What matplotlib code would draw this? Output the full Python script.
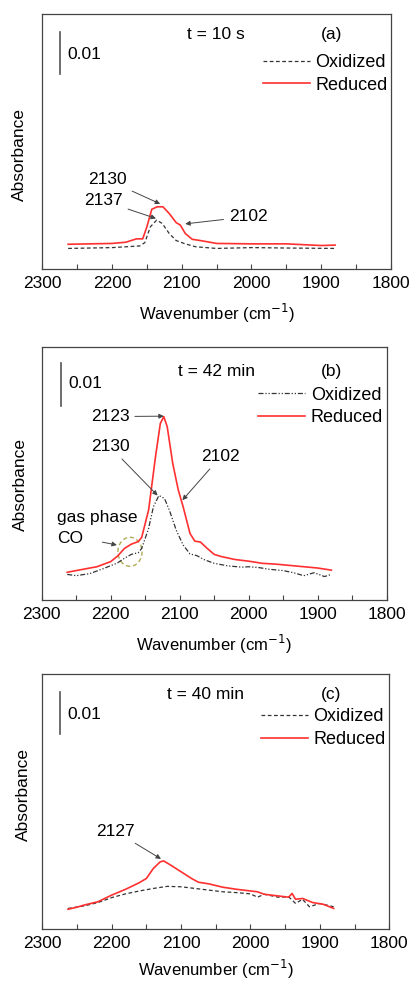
import matplotlib
matplotlib.use("Agg")
import matplotlib.pyplot as plt
from matplotlib.patches import Ellipse
import numpy as np

plt.rcParams['font.family'] = ['Liberation Sans', 'DejaVu Sans']

# ---------------- data ----------------
# panel (a): t = 10 s
a_red_w = [2263, 2200, 2180, 2165, 2156, 2150, 2143, 2135, 2127, 2118, 2108, 2102, 2095, 2085,
           2070, 2050, 2000, 1950, 1900, 1880]
a_red_v = [0.0060, 0.0062, 0.0065, 0.0073, 0.0073, 0.0102, 0.0144, 0.0150, 0.0150, 0.0134, 0.0112,
           0.0106, 0.0086, 0.0072, 0.0068, 0.0062, 0.0061, 0.0061, 0.0057, 0.0058]
a_ox_w = [2263, 2200, 2160, 2153, 2145, 2136, 2128, 2118, 2108, 2095, 2080, 2050, 2000, 1950, 1880]
a_ox_v = [0.0050, 0.0052, 0.0056, 0.0064, 0.0102, 0.0118, 0.0110, 0.0086, 0.0069, 0.0061, 0.0054,
          0.0050, 0.0052, 0.0051, 0.0050]

# panel (b): t = 42 min
b_red_w = [2263, 2240, 2220, 2200, 2190, 2180, 2170, 2160, 2155, 2145, 2135, 2128, 2123, 2118,
           2110, 2102, 2095, 2085, 2078, 2070, 2060, 2050, 2040, 2020, 2000, 1980, 1960, 1940,
           1920, 1900, 1880]
b_red_v = [0.0065, 0.0072, 0.0078, 0.0090, 0.0103, 0.0121, 0.0131, 0.0137, 0.0147, 0.0211, 0.0336,
           0.0414, 0.0430, 0.0406, 0.0320, 0.0258, 0.0219, 0.0156, 0.0138, 0.0136, 0.0121, 0.0107,
           0.0102, 0.0095, 0.0091, 0.0086, 0.0084, 0.0081, 0.0078, 0.0075, 0.0070]
b_ox_w = [2263, 2250, 2230, 2210, 2190, 2180, 2170, 2160, 2155, 2145, 2138, 2130, 2122, 2115,
          2105, 2095, 2085, 2075, 2065, 2050, 2030, 2010, 2000, 1985, 1970, 1950, 1935, 1920,
          1905, 1890, 1880]
b_ox_v = [0.0060, 0.0057, 0.0062, 0.0074, 0.0087, 0.0098, 0.0107, 0.0111, 0.0121, 0.0168, 0.0219,
          0.0245, 0.0238, 0.0211, 0.0164, 0.0129, 0.0108, 0.0104, 0.0095, 0.0086, 0.0080, 0.0077,
          0.0078, 0.0076, 0.0072, 0.0069, 0.0064, 0.0057, 0.0064, 0.0055, 0.0060]

# panel (c): t = 40 min
c_red_w = [2263, 2250, 2240, 2220, 2200, 2180, 2160, 2150, 2140, 2130, 2125, 2115, 2100, 2085,
           2075, 2060, 2040, 2020, 2000, 1990, 1980, 1960, 1945, 1940, 1935, 1925, 1910, 1895, 1880]
c_red_v = [0.0048, 0.0053, 0.0058, 0.0066, 0.0082, 0.0096, 0.0112, 0.0122, 0.0146, 0.0162, 0.0164,
           0.0154, 0.0138, 0.0122, 0.0113, 0.0109, 0.0101, 0.0096, 0.0092, 0.0090, 0.0084, 0.0080,
           0.0077, 0.0086, 0.0072, 0.0074, 0.0064, 0.0060, 0.0050]
c_ox_w = [2263, 2240, 2220, 2200, 2180, 2160, 2140, 2120, 2100, 2080, 2060, 2040, 2020, 2000,
          1990, 1980, 1960, 1945, 1935, 1925, 1915, 1900, 1880]
c_ox_v = [0.0050, 0.0056, 0.0064, 0.0076, 0.0085, 0.0092, 0.0098, 0.0103, 0.0102, 0.0098, 0.0094,
          0.0090, 0.0088, 0.0085, 0.0077, 0.0084, 0.0077, 0.0078, 0.0062, 0.0072, 0.0054, 0.0062,
          0.0054]

series_labels = ["Oxidized", "Reduced"]
x_ticks = [2300, 2200, 2100, 2000, 1900, 1800]
scale_bar = 0.01

# ---------------- styling ----------------
RED = '#ff3030'
OX = '#333333'
SPINE = '#444444'
FS = 12.5
FS_LEG = 13

fig = plt.figure(figsize=(4.11, 9.82), dpi=100)

panels = [
    dict(rect=[0.103, 0.7258, 0.848, 0.260], ylim=0.0613, red=(a_red_w, a_red_v), ox=(a_ox_w, a_ox_v),
         oxstyle=(0, (3, 2)), title="t = 10 s", tx=0.499, letter="(a)", lx=0.829, ty=0.92,
         bar=(2274.6, 0.0469), lab_y=0.842, lab_x=0.073, leg=(0.99, 0.842), ylab=(-0.043, 0.45),
         xpad=8,
         notes=[("2130", (0.187, 0.35), (2131, 0.0157)),
                ("2137", (0.175, 0.268), (2137, 0.0122)),
                ("2102", (0.591, 0.206), (2095, 0.0109))]),
    dict(rect=[0.1015, 0.389, 0.839, 0.258], ylim=0.0594, red=(b_red_w, b_red_v), ox=(b_ox_w, b_ox_v),
         oxstyle=(0, (4, 1.5, 1, 1.5, 1, 1.5)), title="t = 42 min", tx=0.507, letter="(b)", lx=0.839,
         ty=0.901, bar=(2272, 0.0455), lab_y=0.855, lab_x=0.077, leg=(0.99, 0.842), ylab=(-0.041, 0.454),
         xpad=8,
         notes=[("2123", (0.198, 0.724), (2123, 0.0431)),
                ("2130", (0.198, 0.605), (2132, 0.0245)),
                ("2102", (0.519, 0.566), (2096, 0.0234))]),
    dict(rect=[0.103, 0.0537, 0.844, 0.260], ylim=0.0613, red=(c_red_w, c_red_v), ox=(c_ox_w, c_ox_v),
         oxstyle=(0, (3, 2)), title="t = 40 min", tx=0.469, letter="(c)", lx=0.832, ty=0.92,
         bar=(2274.6, 0.0469), lab_y=0.842, lab_x=0.073, leg=(0.99, 0.865), ylab=(-0.034, 0.526),
         xpad=5,
         notes=[("2127", (0.212, 0.3825), (2129, 0.0169))]),
]

for i, p in enumerate(panels):
    ax = fig.add_axes(p['rect'])
    ox_line, = ax.plot(p['ox'][0], p['ox'][1], color=OX, lw=0.9, linestyle=p['oxstyle'],
                       label=series_labels[0])
    red_line, = ax.plot(p['red'][0], p['red'][1], color=RED, lw=1.2, label=series_labels[1])
    ax.set_xlim(2300, 1800)
    ax.set_ylim(0, p['ylim'])
    ax.set_xticks(x_ticks)
    ax.set_xticks([2250, 2150, 2050, 1950, 1850], minor=True)
    ax.set_yticks([])
    ax.tick_params(axis='x', which='both', direction='in', length=3.5, width=0.8,
                   color=SPINE, labelsize=FS, pad=5)
    for s in ax.spines.values():
        s.set_color(SPINE)
        s.set_linewidth(0.9)
    ax.set_xlabel("Wavenumber (cm$^{-1}$)", fontsize=12, labelpad=p['xpad'])
    ax.set_ylabel("Absorbance", fontsize=FS)
    ax.yaxis.set_label_coords(*p['ylab'])

    # scale bar
    bx, by = p['bar']
    ax.plot([bx, bx], [by, by + scale_bar], color='#555555', lw=1.2)
    ax.text(p['lab_x'], p['lab_y'], "0.01", transform=ax.transAxes, fontsize=FS,
            ha='left', va='center')
    ax.text(p['tx'], p['ty'], p['title'], transform=ax.transAxes, fontsize=FS,
            ha='center', va='center')
    ax.text(p['lx'], p['ty'], p['letter'], transform=ax.transAxes, fontsize=FS,
            ha='center', va='center')

    ax.legend(handles=[ox_line, red_line], loc='upper right', bbox_to_anchor=p['leg'],
              frameon=False, fontsize=FS_LEG, handlelength=2.6, handletextpad=0.3,
              labelspacing=0.3, borderaxespad=0.0, borderpad=0.0)

    for txt, tpos, xy in p['notes']:
        ax.annotate(txt, xy=xy, xycoords='data', xytext=tpos, textcoords='axes fraction',
                    fontsize=FS, ha='center', va='center',
                    arrowprops=dict(arrowstyle='-|>', color='#444444', lw=0.7,
                                    mutation_scale=7, shrinkA=2, shrinkB=0))

    if i == 1:
        ax.text(0.045, 0.325, "gas phase", transform=ax.transAxes, fontsize=FS,
                ha='left', va='center')
        ax.annotate("CO", xy=(2191, 0.0129), xycoords='data', xytext=(0.045, 0.243),
                    textcoords='axes fraction', fontsize=FS, ha='left', va='center',
                    arrowprops=dict(arrowstyle='-|>', color='#444444', lw=0.7,
                                    mutation_scale=7, shrinkA=12, shrinkB=0,
                                    relpos=(1.0, 0.5)))
        ax.add_patch(Ellipse((2172, 0.0113), width=35, height=0.0068, fill=False,
                             edgecolor='#b0ab55', linestyle=(0, (3, 2)), lw=1.0))

fig.savefig("out.png", dpi=100)
